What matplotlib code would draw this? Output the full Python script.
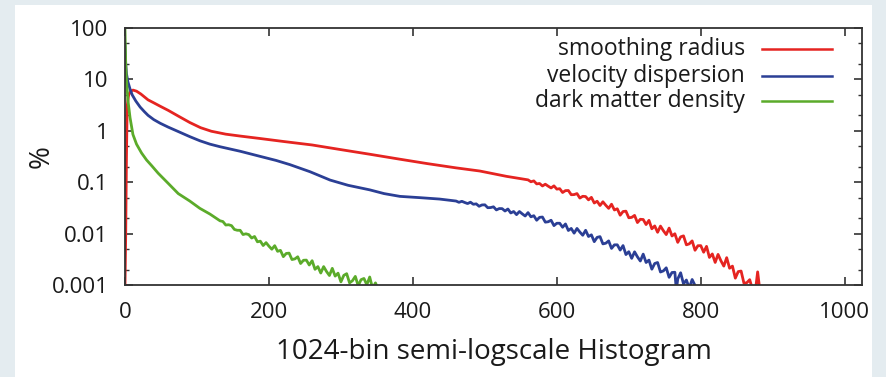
import matplotlib
matplotlib.use("Agg")
import matplotlib.pyplot as plt
from matplotlib.patches import Rectangle
from matplotlib.ticker import LogLocator, FixedLocator, FuncFormatter, NullFormatter

plt.rcParams['font.family'] = ['Open Sans', 'DejaVu Sans']

# ---------------- data ----------------
series_names = ["smoothing radius", "velocity dispersion", "dark matter density"]
series_colors = ["#e52421", "#2b3f95", "#5bab2a"]

red_bins = [0, 1, 2, 3, 5, 8, 11, 16, 22, 32, 40, 49, 60, 75, 90, 105, 120, 140, 160,
            187, 220, 260, 300, 340, 382, 420, 460, 493, 530,
            560, 564, 568, 572, 576, 580, 584, 588, 592, 596, 600, 604, 608, 612, 616,
            620, 624, 628, 632, 636, 640, 644, 648, 652, 656, 660, 664, 668, 672, 676,
            680, 684, 688, 692, 696, 700, 704, 708, 712, 716, 720, 724, 728, 732, 736,
            740, 744, 748, 752, 756, 760, 764, 768, 772, 776, 780, 784, 788, 792, 796,
            800, 804, 808, 812, 816, 820, 824, 828, 832, 836, 840, 844, 848, 852, 856,
            860, 864, 868, 872, 876, 879, 882]
red_vals = [0.001, 0.01, 0.3, 3.0, 5.0, 5.9, 6.2, 5.9, 5.2, 4.0, 3.5, 3.0, 2.5, 1.9, 1.45,
            1.15, 0.98, 0.86, 0.79,
            0.71, 0.62, 0.53, 0.43, 0.35, 0.28, 0.23, 0.19, 0.165, 0.13,
            0.111, 0.102, 0.106, 0.0927, 0.0944, 0.0845, 0.0914, 0.0837, 0.0773, 0.0849,
            0.0733, 0.0748, 0.0630, 0.0686, 0.0689, 0.0571, 0.0574, 0.0601, 0.0491,
            0.0532, 0.0526, 0.0453, 0.0507, 0.0394, 0.0426, 0.0352, 0.0416, 0.0356,
            0.0310, 0.0373, 0.0288, 0.0304, 0.0228, 0.0269, 0.0273, 0.0203, 0.0207,
            0.0226, 0.0164, 0.0190, 0.0188, 0.0150, 0.0181, 0.0124, 0.0141, 0.0106,
            0.0140, 0.0114, 0.00957, 0.0128, 0.00899, 0.00993, 0.00675, 0.00863,
            0.00904, 0.00605, 0.00632, 0.00721, 0.00474, 0.00581, 0.00583, 0.00434,
            0.00565, 0.00344, 0.00402, 0.00275, 0.00394, 0.00296, 0.00233, 0.00340,
            0.00212, 0.00233, 0.00136, 0.00182, 0.00187, 0.00108, 0.00111, 0.00127,
            0.0008, 0.0008, 0.0018, 0.0008]

blue_bins = [0, 1, 2, 4, 7, 10, 15, 21, 27, 32, 40, 49, 60, 76, 90, 104, 118, 132, 160,
             187, 210, 229, 257, 285, 310, 340, 360, 382, 410, 437, 460,
             464, 468, 472, 476, 480, 484, 488, 492, 496, 500, 504, 508, 512, 516, 520,
             524, 528, 532, 536, 540, 544, 548, 552, 556, 560, 564, 568, 572, 576, 580,
             584, 588, 592, 596, 600, 604, 608, 612, 616, 620, 624, 628, 632, 636, 640,
             644, 648, 652, 656, 660, 664, 668, 672, 676, 680, 684, 688, 692, 696, 700,
             704, 708, 712, 716, 720, 724, 728, 732, 736, 740, 744, 748, 752, 756, 760,
             764, 766, 768, 772, 776, 780, 784, 788, 792, 796]
blue_vals = [45, 20, 13, 9, 6.5, 5.0, 3.8, 2.9, 2.35, 2.0, 1.65, 1.4, 1.18, 0.94, 0.77,
             0.64, 0.55, 0.49, 0.40, 0.32, 0.265, 0.22, 0.16, 0.11, 0.087, 0.071, 0.060,
             0.053, 0.050, 0.047, 0.043,
             0.0406, 0.0425, 0.0403, 0.0384, 0.0408, 0.0372, 0.0379, 0.0340, 0.0361,
             0.0363, 0.0319, 0.0321, 0.0332, 0.0289, 0.0307, 0.0306, 0.0275, 0.0301,
             0.0252, 0.0269, 0.0234, 0.0269, 0.0242, 0.0220, 0.0256, 0.0212, 0.0223,
             0.0182, 0.0207, 0.0210, 0.0167, 0.0170, 0.0182, 0.0143, 0.0159, 0.0159,
             0.0133, 0.0154, 0.0115, 0.0126, 0.0102, 0.0126, 0.0107, 0.00929, 0.0116,
             0.00879, 0.00946, 0.00697, 0.00845, 0.00873, 0.00631, 0.00650, 0.00721,
             0.00515, 0.00604, 0.00605, 0.00478, 0.00585, 0.00391, 0.00444, 0.00330,
             0.00442, 0.00353, 0.00293, 0.00399, 0.00274, 0.00305, 0.00203, 0.00262,
             0.00274, 0.00179, 0.00188, 0.00216, 0.00141, 0.00175, 0.00177, 0.0008,
             0.00131, 0.00173, 0.00105, 0.00125, 0.00087, 0.00128, 0.00098, 0.0008]

green_bins = [0, 1, 2, 4, 7, 11, 16, 23, 30, 37, 46, 60, 74, 90, 104, 118,
              132, 136, 140, 144, 148, 152, 156, 160, 164, 168, 172, 176, 180, 184, 188,
              192, 196, 200, 204, 208, 212, 216, 220, 224, 228, 232, 236, 240, 244, 248,
              252, 256, 260, 264, 268, 272, 276, 280, 284, 288, 292, 296, 300, 304, 308,
              312, 316, 320, 324, 328, 332, 336, 340, 344, 348, 352, 356]
green_vals = [90, 20, 10, 4.0, 1.8, 0.85, 0.55, 0.37, 0.27, 0.21, 0.15, 0.095, 0.06, 0.043,
              0.031, 0.024,
              0.01774, 0.01718, 0.01469, 0.01486, 0.01429, 0.01205, 0.01161, 0.01159,
              0.00959, 0.00991, 0.00955, 0.00820, 0.00879, 0.00692, 0.00713, 0.00586,
              0.00667, 0.00569, 0.00497, 0.00582, 0.00452, 0.00472, 0.00356, 0.00411,
              0.00417, 0.00313, 0.00322, 0.00354, 0.00262, 0.00303, 0.00305, 0.00245,
              0.00297, 0.00202, 0.00228, 0.00171, 0.00228, 0.00183, 0.00153, 0.00211,
              0.00149, 0.00170, 0.00115, 0.00154, 0.00166, 0.00110, 0.00121, 0.00147,
              0.00097, 0.00127, 0.00134, 0.00101, 0.00143, 0.00086, 0.00110, 0.0008,
              0.0008]

x_ticks = [0, 200, 400, 600, 800, 1000]
y_ticks = [0.001, 0.01, 0.1, 1, 10, 100]
x_label = "1024-bin semi-logscale Histogram"
y_label = "%"

# ---------------- figure ----------------
W, H = 887, 377
fig = plt.figure(figsize=(W / 100, H / 100), dpi=100)
fig.patch.set_facecolor("#e4ecf0")
panel = Rectangle((15 / W, 0), (872 - 15) / W, (377 - 5) / H,
                  transform=fig.transFigure, facecolor="white",
                  edgecolor="none", zorder=-10)
fig.add_artist(panel)

ax = fig.add_axes([125 / W, (H - 285) / H, (862 - 125) / W, (285 - 28) / H])
ax.set_zorder(5)
ax.set_facecolor("white")

for bins, vals, c in zip([red_bins, blue_bins, green_bins],
                         [red_vals, blue_vals, green_vals], series_colors):
    ax.plot(bins, vals, color=c, lw=2.0, solid_joinstyle="round", clip_on=True)

ax.set_yscale("log")
ax.set_xlim(0, 1024)
ax.set_ylim(0.001, 100)

ax.xaxis.set_major_locator(FixedLocator(x_ticks))
ax.yaxis.set_major_locator(FixedLocator(y_ticks))
ax.yaxis.set_minor_locator(LogLocator(base=10, subs=(2.0, 5.0)))
ax.yaxis.set_minor_formatter(NullFormatter())
ax.yaxis.set_major_formatter(FuncFormatter(lambda v, p: "%g" % v))

for s in ax.spines.values():
    s.set_color("#333333")
    s.set_linewidth(1.3)

ax.tick_params(which="both", direction="in", top=True, right=True,
               color="#333333", labelsize=16, labelcolor="#1a1a1a")
ax.tick_params(which="major", length=6, width=1.2)
ax.tick_params(which="minor", length=3, width=1.0)
ax.tick_params(axis="y", which="major", pad=12)
ax.tick_params(axis="x", which="major", pad=12)

xl = ax.set_xlabel(x_label, fontsize=20, color="#1a1a1a")
xl.set_va("baseline")
ax.xaxis.set_label_coords(0.5, (285 - 359) / 257)
ax.set_ylabel(y_label, fontsize=20, color="#1a1a1a")
ax.yaxis.set_label_coords(-0.094, 0.5)

# legend (text right-aligned, sample line to the right)
leg_y = [(285 - 49) / 257, (285 - 76) / 257, (285 - 101) / 257]
for name, c, yy in zip(series_names, series_colors, leg_y):
    ax.text((745 - 125) / 737, yy, name, transform=ax.transAxes, ha="right",
            va="center", fontsize=16.5, color="#1a1a1a")
    ax.plot([(762 - 125) / 737, (832 - 125) / 737], [yy, yy], color=c, lw=1.8,
            transform=ax.transAxes, clip_on=False)

fig.savefig("out.png", dpi=100, facecolor=fig.get_facecolor())
